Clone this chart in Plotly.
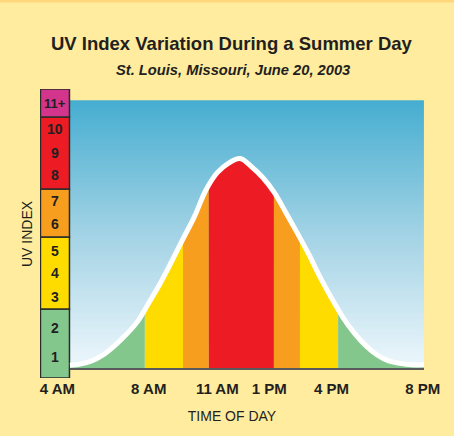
import numpy as np
import plotly.graph_objects as go

# ---------------- data ----------------
hours = [4.55, 5, 5.5, 6, 6.5, 7, 7.5, 8, 8.5, 9, 9.5, 10, 10.5, 11, 11.5, 12,
         12.5, 13, 13.5, 14, 14.5, 15, 15.5, 16, 16.5, 17, 17.5, 18, 18.5, 19, 19.5, 20.05]
uv = [0.15, 0.2, 0.33, 0.58, 0.96, 1.42, 1.96, 2.75, 3.56, 4.47, 5.42, 6.35, 7.45, 8.18, 8.58, 8.77,
      8.43, 7.97, 7.35, 6.52, 5.67, 4.79, 3.83, 2.96, 2.15, 1.49, 0.97, 0.58, 0.33, 0.23, 0.17, 0.17]

# times where the curve crosses category thresholds (band edges)
band_edges = [4.55, 7.83, 9.50, 10.63, 13.48, 14.62, 16.29, 20.05]
band_cats = ["low", "moderate", "high", "very high", "high", "moderate", "low"]

cat_names = ["low", "moderate", "high", "very high", "extreme"]
cat_bottoms = [-0.38, 2.5, 5.5, 7.5, 10.5]
cat_tops = [2.5, 5.5, 7.5, 10.5, 11.67]
cat_colors = {"low": "#83C78D", "moderate": "#FEDC00", "high": "#F79E1E",
              "very high": "#ED1C24", "extreme": "#D2358B"}

uv_labels = ["1", "2", "3", "4", "5", "6", "7", "8", "9", "10", "11+"]
uv_label_pos = [0.5, 1.7, 3.0, 4.0, 4.9, 6.05, 7.0, 8.1, 9.0, 10.0, 11.05]

tick_vals = [4, 8, 11, 13, 16, 20]
tick_text = ["4 AM", "8 AM", "11 AM", "\u00a0\u00a0\u00a01 PM", "4 PM", "8 PM"]

title = "UV Index Variation During a Summer Day"
subtitle = "St. Louis, Missouri, June 20, 2003"

# ---------------- figure ----------------
W, HT = 454, 436
ML, MR, MT, MB = 40, 30, 89, 58
BG = "#FFEC9E"
FONT = "Liberation Sans, Arial, sans-serif"
INK = "#231F20"
x_lo, x_hi = 3.24, 20.05
y_lo, y_hi = -0.38, 11.67
plot_top = 11.2

fig = go.Figure()

# sky gradient background
ny = 160
yedges = np.linspace(0, plot_top, ny + 1)
z = [[i, i] for i in range(ny)]
fig.add_trace(go.Heatmap(x=[hours[0], 12, hours[-1]], y=yedges, z=z,
                         colorscale=[[0, "#EEF7FC"], [0.5, "#A3D3E5"], [1, "#47AED1"]],
                         showscale=False, hoverinfo="skip"))

hours_a = np.array(hours)
uv_a = np.array(uv)
for i, cat in enumerate(band_cats):
    a, b = band_edges[i], band_edges[i + 1]
    inner = hours_a[(hours_a > a) & (hours_a < b)]
    xs = np.concatenate([[a], inner, [b]])
    ys = np.interp(xs, hours_a, uv_a)
    fig.add_trace(go.Scatter(x=xs, y=ys, mode="lines", line=dict(width=0, shape="spline"),
                             fill="tozeroy", fillcolor=cat_colors[cat], hoverinfo="skip"))

# white curve
fig.add_trace(go.Scatter(x=hours, y=uv, mode="lines",
                         line=dict(color="white", width=5, shape="spline"), hoverinfo="skip"))

# baseline
fig.add_trace(go.Scatter(x=[hours[0], hours[-1]], y=[0, 0], mode="lines",
                         line=dict(color="#5A5A5A", width=2), hoverinfo="skip"))

# UV index category bar
bar_x = (x_lo + hours[0]) / 2
fig.add_trace(go.Bar(x=[bar_x] * len(cat_names),
                     y=[t - b for t, b in zip(cat_tops, cat_bottoms)],
                     base=cat_bottoms, width=hours[0] - x_lo - 0.04,
                     marker=dict(color=[cat_colors[c] for c in cat_names],
                                 line=dict(color="#2B2B2B", width=1.5)),
                     hoverinfo="skip", cliponaxis=False))

for lab, pos in zip(uv_labels, uv_label_pos):
    fig.add_annotation(x=bar_x, y=pos, text="<b>" + lab + "</b>", showarrow=False,
                       font=dict(family=FONT, size=14 if lab != "11+" else 13, color=INK))

fig.update_layout(
    width=W, height=HT,
    margin=dict(l=ML, r=MR, t=MT, b=MB, autoexpand=False),
    paper_bgcolor=BG, plot_bgcolor=BG,
    showlegend=False,
    barmode="overlay",
    hovermode=False,
    xaxis=dict(range=[x_lo, x_hi], showgrid=False, zeroline=False, showline=False,
               tickmode="array", tickvals=tick_vals, ticktext=tick_text, ticks="",
               tickangle=0, automargin=False,
               tickfont=dict(family=FONT, size=15, color=INK, weight="bold"),
               title=dict(text="TIME OF DAY", font=dict(family=FONT, size=14, color=INK),
                          standoff=15),
               fixedrange=True),
    yaxis=dict(range=[y_lo, y_hi], showgrid=False, zeroline=False, showline=False,
               showticklabels=False, ticks="", fixedrange=True, automargin=False),
)

PH = HT - MT - MB
PW = W - ML - MR


def yp(py):
    return (HT - MB - py) / PH


def xp(px):
    return (px - ML) / PW


fig.add_annotation(xref="paper", yref="paper", x=xp(27), y=yp(234), xanchor="center", yanchor="middle",
                   text="UV INDEX", textangle=-90, showarrow=False,
                   font=dict(family=FONT, size=14, color=INK))

fig.add_annotation(xref="paper", yref="paper", x=xp(232), y=yp(43),
                   xanchor="center", yanchor="middle", text="<b>" + title + "</b>", showarrow=False,
                   font=dict(family=FONT, size=18.5, color=INK))
fig.add_annotation(xref="paper", yref="paper", x=xp(233), y=yp(70),
                   xanchor="center", yanchor="middle", text="<b><i>" + subtitle + "</i></b>",
                   showarrow=False, font=dict(family=FONT, size=14.7, color=INK))

# top stripe
fig.add_shape(type="rect", xref="paper", yref="paper", x0=xp(-5), x1=xp(W + 5),
              y0=yp(2.5), y1=yp(-3), fillcolor="#FFD77A", line=dict(width=0), layer="above")

fig.write_html("out.html", config={"displayModeBar": False, "staticPlot": True},
               post_script="document.body.style.margin='0';document.body.style.overflow='hidden';")
